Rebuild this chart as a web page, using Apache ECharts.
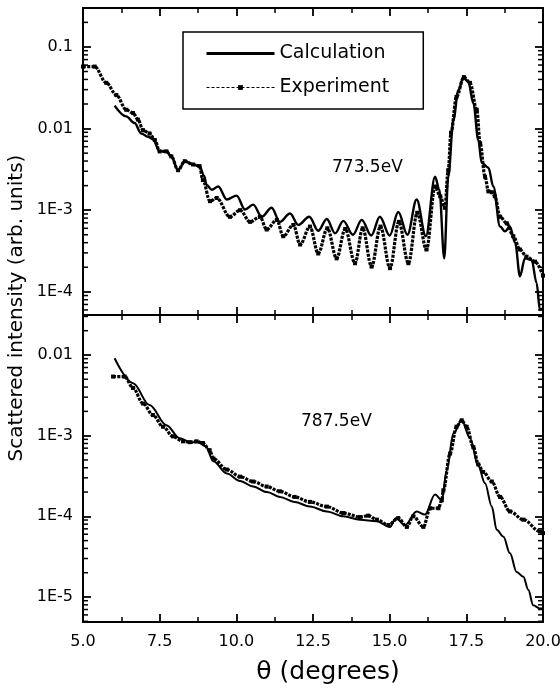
<!DOCTYPE html>
<html>
<head>
<meta charset="utf-8">
<script src="https://cdn.jsdelivr.net/npm/echarts@6/dist/echarts.min.js"></script>
<style>
  html, body { margin: 0; padding: 0; background: #fff; }
  #chart { width: 560px; height: 690px; }
</style>
</head>
<body>
<div id="chart"></div>
<script>
// ---- 773.5 eV panel ----
const calc773Theta = [6.03, 6.41, 6.68, 6.90, 7.12, 7.28, 7.50, 7.72, 7.88, 8.10, 8.32, 8.59, 8.80, 8.95, 9.03, 9.20, 9.41, 9.69, 10.01, 10.28, 10.55, 10.83, 11.15, 11.42, 11.75, 12.02, 12.38, 12.67, 12.95, 13.22, 13.49, 13.80, 14.09, 14.40, 14.68, 15.00, 15.28, 15.58, 15.88, 16.18, 16.48, 16.62, 16.78, 16.91, 17.08, 17.24, 17.40, 17.56, 17.73, 17.89, 18.00, 18.22, 18.38, 18.60, 18.76, 18.92, 19.09, 19.25, 19.41, 19.63, 19.79, 19.90, 20.00];
const calc773Int = [0.0191, 0.0141, 0.0117, 0.00871, 0.00794, 0.00741, 0.00525, 0.00525, 0.00457, 0.00309, 0.00398, 0.00363, 0.00347, 0.00263, 0.00204, 0.00178, 0.00195, 0.00135, 0.00151, 0.00102, 0.00117, 8.3e-4, 1.07e-3, 7.2e-4, 9.1e-4, 6.6e-4, 8.3e-4, 5.6e-4, 7.8e-4, 5.2e-4, 7.4e-4, 5.0e-4, 7.6e-4, 4.9e-4, 8.3e-4, 4.9e-4, 9.5e-4, 5.0e-4, 1.35e-3, 4.8e-4, 2.57e-3, 1.78e-3, 2.57e-4, 2.57e-3, 0.0129, 0.0295, 0.0417, 0.0380, 0.0204, 0.00724, 0.00380, 0.00331, 0.00195, 6.3e-4, 5.5e-4, 6.3e-4, 4.0e-4, 1.55e-4, 2.57e-4, 2.45e-4, 1.29e-4, 6.0e-5, 6.3e-5];

const exp773Theta = [5.00, 5.38, 5.76, 6.09, 6.41, 6.63, 6.79, 6.96, 7.17, 7.34, 7.50, 7.72, 7.88, 8.10, 8.32, 8.59, 8.80, 8.91, 9.14, 9.36, 9.79, 10.12, 10.45, 10.77, 10.99, 11.32, 11.53, 11.86, 12.08, 12.40, 12.67, 12.97, 13.27, 13.55, 13.87, 14.12, 14.41, 14.70, 15.01, 15.30, 15.61, 15.90, 16.20, 16.48, 16.65, 16.80, 16.91, 17.00, 17.18, 17.42, 17.62, 17.84, 17.95, 18.11, 18.22, 18.33, 18.43, 18.60, 18.82, 19.03, 19.25, 19.46, 19.74, 20.00];
const exp773Int = [0.0575, 0.0575, 0.0363, 0.0257, 0.0170, 0.0155, 0.0129, 0.00955, 0.00871, 0.00724, 0.00525, 0.00525, 0.00457, 0.00309, 0.00398, 0.00363, 0.00347, 0.00234, 0.00129, 0.00141, 8.3e-4, 1.0e-3, 7.2e-4, 8.3e-4, 5.8e-4, 7.6e-4, 4.8e-4, 6.6e-4, 3.8e-4, 6.3e-4, 2.95e-4, 6.0e-4, 2.57e-4, 5.9e-4, 2.24e-4, 6.0e-4, 2.04e-4, 6.3e-4, 1.95e-4, 7.2e-4, 2.24e-4, 9.3e-4, 3.3e-4, 1.95e-3, 1.48e-3, 1.07e-3, 3.09e-3, 8.9e-3, 0.0245, 0.0427, 0.0363, 0.0170, 0.0066, 0.00257, 0.0017, 0.00166, 0.00148, 8.3e-4, 6.9e-4, 4.8e-4, 3.3e-4, 2.7e-4, 2.34e-4, 1.58e-4];

// ---- 787.5 eV panel ----
const calc787Theta = [6.03, 6.63, 7.17, 7.72, 8.15, 8.50, 8.75, 9.00, 9.25, 9.69, 10.12, 10.55, 11.00, 11.42, 11.90, 12.40, 12.95, 13.49, 14.03, 14.58, 15.01, 15.20, 15.50, 15.88, 16.15, 16.48, 16.70, 16.86, 17.08, 17.35, 17.62, 17.89, 18.11, 18.33, 18.49, 18.71, 18.92, 19.14, 19.36, 19.52, 19.68, 19.90, 20.00];
const calc787Int = [0.0091, 0.00447, 0.0024, 0.00135, 0.00093, 0.00083, 0.00083, 0.00074, 4.8e-4, 3.4e-4, 2.75e-4, 2.34e-4, 2.0e-4, 1.74e-4, 1.51e-4, 1.32e-4, 1.15e-4, 1.0e-4, 9.1e-5, 8.7e-5, 7.4e-5, 9.5e-5, 7.8e-5, 1.15e-4, 1.05e-4, 1.86e-4, 1.58e-4, 3.7e-4, 1.07e-3, 1.55e-3, 9.3e-4, 4.2e-4, 2.57e-4, 1.32e-4, 6.8e-5, 5.6e-5, 3.5e-5, 2.04e-5, 1.78e-5, 1.23e-5, 7.9e-6, 7.2e-6, 7.2e-6];

const exp787Theta = [5.98, 6.36, 6.63, 6.96, 7.28, 7.61, 7.93, 8.26, 8.48, 8.70, 8.91, 9.13, 9.25, 9.69, 10.12, 10.55, 10.99, 11.42, 11.90, 12.40, 12.95, 13.49, 14.03, 14.30, 14.58, 14.96, 15.28, 15.56, 15.77, 16.10, 16.32, 16.59, 16.70, 16.75, 16.97, 17.18, 17.35, 17.51, 17.73, 17.89, 18.05, 18.33, 18.60, 18.92, 19.36, 19.90, 20.00];
const exp787Int = [0.0054, 0.0054, 0.0039, 0.0025, 0.0018, 0.00129, 0.00098, 0.00085, 0.00083, 0.00085, 0.00081, 0.00066, 5.2e-4, 3.8e-4, 3.1e-4, 2.7e-4, 2.34e-4, 2.04e-4, 1.74e-4, 1.51e-4, 1.32e-4, 1.1e-4, 9.8e-5, 1.02e-4, 9.1e-5, 7.8e-5, 9.5e-5, 7.4e-5, 1.0e-4, 7.4e-5, 1.26e-4, 1.26e-4, 1.58e-4, 2.1e-4, 6.0e-4, 1.29e-3, 1.55e-3, 1.29e-3, 7.2e-4, 4.4e-4, 3.55e-4, 2.7e-4, 1.74e-4, 1.15e-4, 9.1e-5, 6.5e-5, 6.2e-5];

// axis settings
const thetaRange = [5, 20];
const thetaStep = 2.5;
const topRange = [5.2e-5, 0.3];
const bottomRange = [4.9e-6, 0.0313];
const decadeExponents = [-1, -2, -3, -4, -5];
const decadeLabels = ['0.1', '0.01', '1E-3', '1E-4', '1E-5'];
const panelLabels = ['773.5eV', '787.5eV'];

const FONT = '"DejaVu Sans", "Liberation Sans", sans-serif';
const INK = '#000';

const zip = (xs, ys) => xs.map((x, i) => [x, ys[i]]);

function decadeLabel(v) {
  const lg = Math.log10(v);
  const e = Math.round(lg);
  if (Math.abs(lg - e) > 1e-6) return '';
  const k = decadeExponents.indexOf(e);
  return k >= 0 ? decadeLabels[k] : '';
}

// minor log ticks at 2..9 × 10^n within the axis range
function minorLogTicks(range) {
  const out = [];
  const e0 = Math.floor(Math.log10(range[0]));
  const e1 = Math.ceil(Math.log10(range[1]));
  for (let e = e0; e <= e1; e++) {
    for (let m = 2; m <= 9; m++) {
      const v = m * Math.pow(10, e);
      if (v > range[0] && v < range[1]) out.push([thetaRange[0], v]);
    }
  }
  return out;
}

// the two stacked panels share the frame edge between them; labels may run past the canvas edge
const grids = [
  { left: 83, top: 8, width: 460, height: 307, outerBoundsMode: 'none', containLabel: false },
  { left: 83, top: 315, width: 460, height: 307, outerBoundsMode: 'none', containLabel: false }
];

function xAxisFor(gridIndex, position, showLabels) {
  return {
    type: 'value', gridIndex, position,
    min: thetaRange[0], max: thetaRange[1], interval: thetaStep,
    axisLine: { show: true, onZero: false, lineStyle: { color: INK, width: 2 } },
    axisTick: { show: true, inside: true, length: 8, lineStyle: { color: INK, width: 1.8 } },
    minorTick: { show: true, splitNumber: 2, length: 5, lineStyle: { color: INK, width: 1.5 } },
    splitLine: { show: false },
    axisLabel: {
      show: showLabels, margin: 12, color: INK, fontFamily: FONT, fontSize: 16,
      formatter: v => v.toFixed(1)
    }
  };
}

function yAxisFor(gridIndex, position, range, showLabels) {
  return {
    type: 'log', logBase: 10, gridIndex, position,
    min: range[0], max: range[1],
    axisLine: { show: true, onZero: false, lineStyle: { color: INK, width: 2 } },
    axisTick: { show: true, inside: true, length: 8, lineStyle: { color: INK, width: 1.8 } },
    splitLine: { show: false },
    axisLabel: {
      show: showLabels, margin: 10, color: INK, fontFamily: FONT, fontSize: 16,
      showMinLabel: false, showMaxLabel: false,
      formatter: decadeLabel
    }
  };
}

// short inward marks at the left and right frame edges for the 2..9 sub-decades
function minorTickSeries(idx, range) {
  return {
    type: 'custom', coordinateSystem: 'cartesian2d',
    xAxisIndex: idx * 2, yAxisIndex: idx * 2, silent: true, z: 10,
    data: minorLogTicks(range),
    encode: { x: 0, y: 1 },
    renderItem(params, api) {
      const p = api.coord([api.value(0), api.value(1)]);
      const cs = params.coordSys;
      const style = { stroke: INK, lineWidth: 1.5 };
      return {
        type: 'group',
        children: [
          { type: 'line', shape: { x1: cs.x, y1: p[1], x2: cs.x + 5, y2: p[1] }, style },
          { type: 'line', shape: { x1: cs.x + cs.width - 5, y1: p[1], x2: cs.x + cs.width, y2: p[1] }, style }
        ]
      };
    }
  };
}

function calcSeries(idx, data, width) {
  return {
    name: 'Calculation', type: 'line', xAxisIndex: idx * 2, yAxisIndex: idx * 2,
    data, symbol: 'none', smooth: 0.35, smoothMonotone: 'x',
    lineStyle: { color: INK, width }, itemStyle: { color: INK }, z: 3
  };
}

function expSeries(idx, data) {
  return {
    name: 'Experiment', type: 'line', xAxisIndex: idx * 2, yAxisIndex: idx * 2,
    data, symbol: 'rect', symbolSize: 4, showSymbol: true, showAllSymbol: true,
    smooth: 0.35, smoothMonotone: 'x',
    lineStyle: { color: INK, width: 3.2, type: [3, 1.2] }, itemStyle: { color: INK }, z: 2
  };
}

const chart = echarts.init(document.getElementById('chart'), null, { renderer: 'canvas' });

chart.setOption({
  animation: false,
  backgroundColor: '#fff',
  grid: grids,
  xAxis: [
    xAxisFor(0, 'bottom', false),
    xAxisFor(0, 'top', false),
    xAxisFor(1, 'bottom', true),
    xAxisFor(1, 'top', false)
  ],
  yAxis: [
    yAxisFor(0, 'left', topRange, true),
    yAxisFor(0, 'right', topRange, false),
    yAxisFor(1, 'left', bottomRange, true),
    yAxisFor(1, 'right', bottomRange, false)
  ],
  legend: {
    orient: 'vertical', left: 183, top: 32,
    itemWidth: 68, itemHeight: 6, itemGap: 15,
    padding: [12, 34, 12, 22],
    borderColor: INK, borderWidth: 1.5, borderRadius: 0,
    textStyle: { color: INK, fontFamily: FONT, fontSize: 19 },
    data: [
      { name: 'Calculation', lineStyle: { width: 3, type: 'solid' }, itemStyle: { opacity: 0 } },
      { name: 'Experiment', lineStyle: { width: 1, type: [3, 2] }, itemStyle: { color: INK } }
    ]
  },
  graphic: [
    {
      type: 'text', x: 17, y: 308, rotation: Math.PI / 2,
      style: { text: 'Scattered intensity (arb. units)', fill: INK, font: '20px ' + FONT, align: 'center', verticalAlign: 'middle' }
    },
    {
      type: 'text', x: 328, y: 672,
      style: { text: 'θ (degrees)', fill: INK, font: '25px ' + FONT, align: 'center', verticalAlign: 'middle' }
    },
    {
      type: 'text', x: 332, y: 168,
      style: { text: panelLabels[0], fill: INK, font: '17px ' + FONT, align: 'left', verticalAlign: 'middle' }
    },
    {
      type: 'text', x: 301, y: 422,
      style: { text: panelLabels[1], fill: INK, font: '17px ' + FONT, align: 'left', verticalAlign: 'middle' }
    }
  ],
  series: [
    minorTickSeries(0, topRange),
    minorTickSeries(1, bottomRange),
    expSeries(0, zip(exp773Theta, exp773Int)),
    calcSeries(0, zip(calc773Theta, calc773Int), 2.4),
    expSeries(1, zip(exp787Theta, exp787Int)),
    calcSeries(1, zip(calc787Theta, calc787Int), 2.0)
  ]
});
</script>
</body>
</html>
